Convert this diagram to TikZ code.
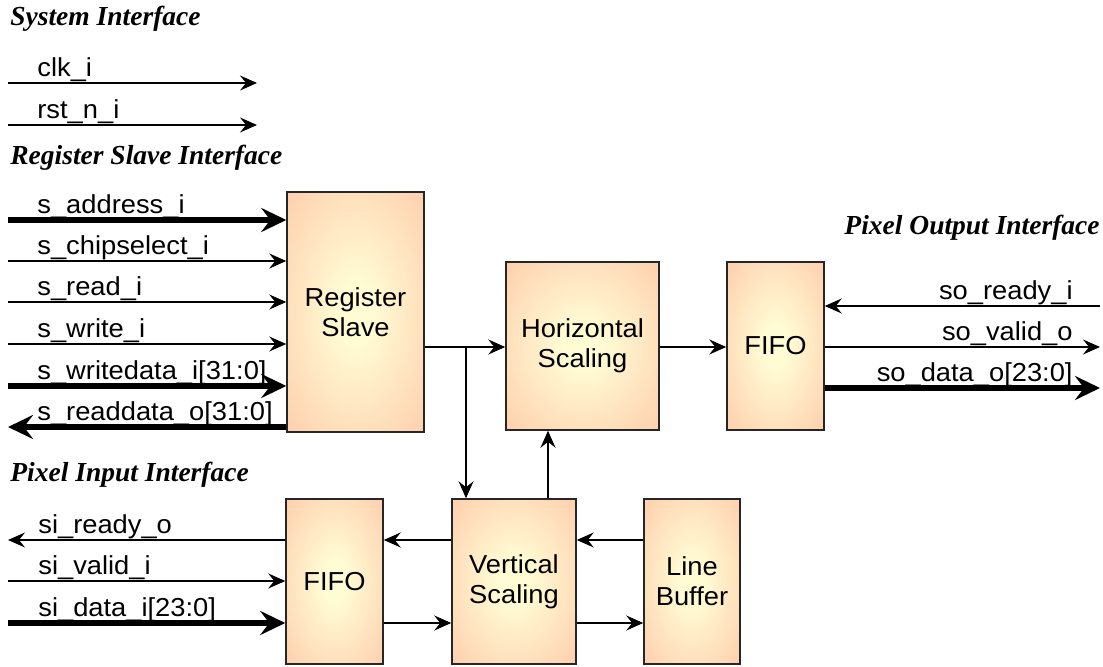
\documentclass[tikz,border=0pt]{standalone}
\usepackage{fontspec}
\setmainfont{Liberation Serif}
\newfontfamily\sigfont[FakeStretch=1.05]{Liberation Sans}
\usetikzlibrary{arrows.meta,positioning,calc}
\definecolor{boxedge}{RGB}{255,200,168}
\definecolor{boxmid}{RGB}{255,252,212}
\pgfdeclareradialshading{boxglow}{\pgfpoint{0bp}{0bp}}{color(0bp)=(boxmid); color(6bp)=(boxmid); color(40bp)=(boxedge); color(50bp)=(boxedge)}
\tikzset{
  blk/.style={draw=black!85, line width=0.75pt, shading=boxglow, font=\sigfont\fontsize{13}{15}\selectfont, align=center, inner sep=0pt},
  sig/.style={line width=0.75pt, -{Stealth[length=8.5pt,width=7.5pt,inset=3pt]}},
  bus/.style={line width=3pt, -{Stealth[length=12.5pt,width=12pt,inset=4.5pt]}},
  lbl/.style={font=\sigfont\fontsize{13}{15}\selectfont, inner sep=0pt},
  ttl/.style={font=\bfseries\itshape\fontsize{13.75}{16}\selectfont, inner sep=0pt}
}
\begin{document}
\begin{tikzpicture}[x=0.5pt,y=-0.5pt]% one unit is one pixel of the reference
\useasboundingbox (0,0) rectangle (1103,667);

% blocks
\node[blk, minimum width=68.5pt, minimum height=120pt] (regslave) at (355.5,312) {Register\\Slave};
\node[blk, minimum width=76.5pt, minimum height=84pt] (hscale) at (582.5,346) {Horizontal\\Scaling};
\node[blk, minimum width=48.5pt, minimum height=84pt] (ofifo) at (775.5,346) {FIFO};
\node[blk, minimum width=48.5pt, minimum height=82.5pt] (ififo) at (334.5,581.5) {FIFO};
\node[blk, minimum width=62pt, minimum height=82.5pt] (vscale) at (514,581.5) {Vertical\\Scaling};
\node[blk, minimum width=48pt, minimum height=82.5pt] (linebuf) at (692,581.5) {Line\\Buffer};

% interface titles
\node[ttl, anchor=base west] (sysif) at (10,26) {System Interface};
\node[ttl, anchor=base west] (regif) at (10,165) {Register Slave Interface};
\node[ttl, anchor=base east] (outif) at (1100,235) {Pixel Output Interface};
\node[ttl, anchor=base west] (inif) at (10,482) {Pixel Input Interface};

% system interface
\foreach[count=\i] \y/\lab in {83/clk\_i, 125/rst\_n\_i}{ %\i counts the signals
\coordinate (sys-\i) at (8,\y);
\coordinate (sysend-\i) at (257,\y);
\node[lbl, anchor=base west] (syslab-\i) at (37,\y-6) {\lab};
\draw[sig] (sys-\i) -- (sysend-\i);
}

% register slave interface
\foreach[count=\i] \y/\lab/\kind in {220/s\_address\_i/bus, 261/s\_chipselect\_i/sig, 302/s\_read\_i/sig, 344/s\_write\_i/sig, 386/s\_writedata\_i[31:0]/bus}{
\coordinate (rin-\i) at (8,\y);
\node[lbl, anchor=base west] (rlab-\i) at (37,\y-6) {\lab};
\draw[\kind] (rin-\i) -- (rin-\i -| regslave.west);
}
\coordinate (rdo) at (8,427);
\node[lbl, anchor=base west] (rlab-6) at (37,421) {s\_readdata\_o[31:0]};
\draw[bus] (rdo -| regslave.west) -- (rdo);

% datapath
\coordinate (tap) at (466,347);
\coordinate (upx) at (548,0);
\draw[sig] (regslave.east |- tap) -- (hscale.west |- tap);
\draw[sig] (tap) -- (tap |- vscale.north);
\draw[sig] (vscale.north -| upx) -- (hscale.south -| upx);
\draw[sig] (hscale.east |- tap) -- (ofifo.west |- tap);

% pixel output interface
\foreach[count=\i] \y/\lab in {306/so\_ready\_i, 347/so\_valid\_o, 388/so\_data\_o[23:0]}{
\coordinate (oend-\i) at (1100,\y);
\node[lbl, anchor=base east] (olab-\i) at (1073,\y-6) {\lab};
}
\draw[sig] (oend-1) -- (oend-1 -| ofifo.east);
\draw[sig] (oend-2 -| ofifo.east) -- (oend-2);
\draw[bus] (oend-3 -| ofifo.east) -- (oend-3);

% pixel input interface
\foreach[count=\i] \y/\lab in {540/si\_ready\_o, 581/si\_valid\_i, 623/si\_data\_i[23:0]}{
\coordinate (iend-\i) at (8,\y);
\node[lbl, anchor=base west] (ilab-\i) at (38,\y-6) {\lab};
}
\draw[sig] (iend-1 -| ififo.west) -- (iend-1);
\draw[sig] (iend-2) -- (iend-2 -| ififo.west);
\draw[bus] (iend-3) -- (iend-3 -| ififo.west);
\draw[sig] (iend-1 -| vscale.west) -- (iend-1 -| ififo.east);
\draw[sig] (iend-1 -| linebuf.west) -- (iend-1 -| vscale.east);
\draw[sig] (iend-3 -| ififo.east) -- (iend-3 -| vscale.west);
\draw[sig] (iend-3 -| vscale.east) -- (iend-3 -| linebuf.west);

\end{tikzpicture}
\end{document}
